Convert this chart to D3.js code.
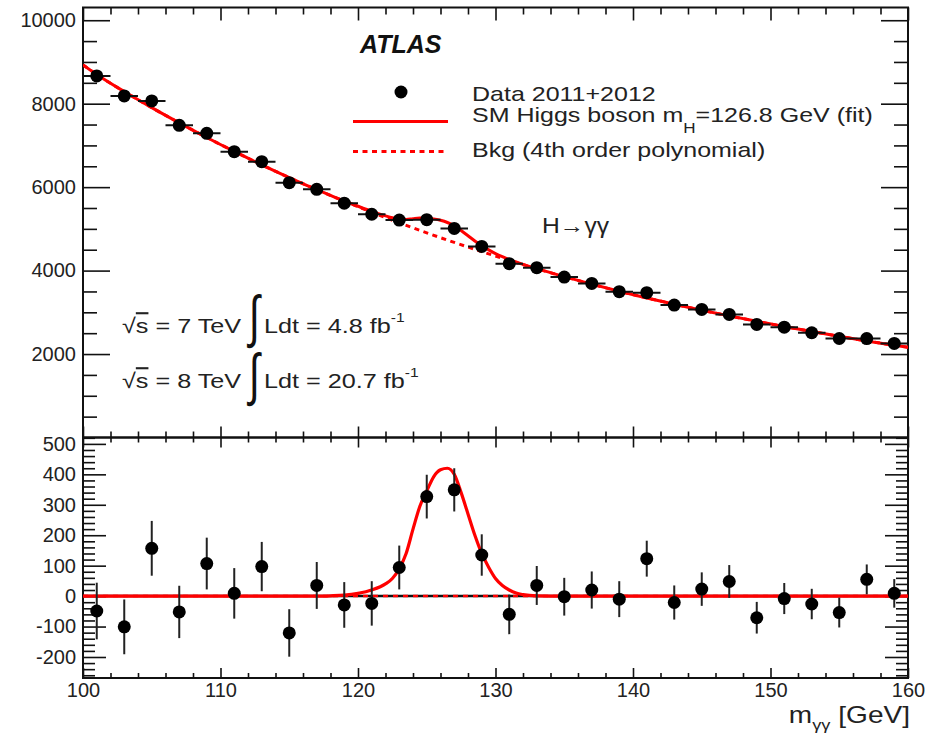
<!DOCTYPE html>
<html><head><meta charset="utf-8">
<script src="https://cdn.jsdelivr.net/npm/d3@7"></script>
<style>body{margin:0;background:#fff}svg{display:block}</style>
</head><body><svg id="c" width="928" height="738"></svg>
<script>
// ---------------- data ----------------
const massBins = [101,103,105,107,109,111,113,115,117,119,121,123,125,127,129,131,133,135,137,139,141,143,145,147,149,151,153,155,157,159];
const dataCounts = [8665,8185,8065,7482,7290,6851,6611,6108,5947,5615,5350,5210,5220,5010,4580,4165,4069,3845,3693,3494,3470,3173,3070,2950,2710,2645,2510,2372,2370,2254];
const dataErr = [93,90,90,86,85,83,81,78,77,75,73,72,72,71,68,65,64,62,61,59,59,56,55,54,52,51,50,49,49,47];
const residuals = [-49,-101,157,-52,107,9,97,-121,35,-29,-24,94,327,349,135,-60,35,-2,20,-10,123,-21,23,48,-71,-8,-26,-54,55,9];
const bkgX = [100,101,103,105,107,109,111,113,115,117,119,121,123,125,127,129,131,133,135,137,139,141,143,145,147,149,151,153,155,157,159,160];
const bkgY = [8930,8700,8290,7905,7540,7190,6855,6535,6230,5940,5665,5400,5145,4905,4675,4455,4245,4045,3855,3675,3505,3345,3195,3050,2915,2785,2660,2540,2425,2315,2210,2165];
const sigX = [100,117,118,119,120,121,122,122.5,123,123.5,124,124.5,125,125.5,126,126.5,127,127.5,128,128.5,129,129.5,130,130.5,131,131.5,132,133,135,160];
const sigY = [0,0,1,3,9,20,40,58,90,140,220,295,345,392,415,420,400,340,270,200,140,95,58,35,20,10,5,1,0,0];
const xMajorTicks = [100,110,120,130,140,150,160];
const yTopTicks = [2000,4000,6000,8000,10000];
const yBotTicks = [-200,-100,0,100,200,300,400,500];

// ---------------- layout ----------------
const FONT = '"Liberation Sans", Arial, Helvetica, sans-serif';
const L = 83, R = 908, T = 7.5, MID = 437.5, B = 678;
const svg = d3.select("#c");

const x = d3.scaleLinear().domain([100,160]).range([L,R]);
const yTop = d3.scaleLinear().domain([0,10305]).range([MID,T]);
const yBot = d3.scaleLinear().domain([-269,521]).range([B,MID]);

const xMinor = d3.range(100,160.01,2).filter(v => v % 10 !== 0);
const yTopMinor = d3.range(500,10300,500).filter(v => v % 2000 !== 0);
const yBotMinor = d3.range(-260,521,20).filter(v => v % 100 !== 0);

function axisG(fn, scale, vals, size, transform, labels, pad) {
  const a = fn(scale).tickValues(vals).tickSize(size).tickPadding(pad || 6)
    .tickFormat(labels ? (d => String(d)) : "");
  const g = svg.append("g").attr("transform", transform).call(a);
  g.select(".domain").remove();
  g.selectAll("line").attr("stroke", "#111").attr("stroke-width", 1.6);
  g.selectAll("text").attr("font-size", 20).attr("font-family", FONT).attr("fill", "#222");
  return g;
}

// top panel axes
axisG(d3.axisLeft, yTop, yTopTicks, -27, `translate(${L},0)`, true, 7);
axisG(d3.axisLeft, yTop, yTopMinor, -14, `translate(${L},0)`, false);
axisG(d3.axisRight, yTop, yTopTicks, -27, `translate(${R},0)`, false);
axisG(d3.axisRight, yTop, yTopMinor, -14, `translate(${R},0)`, false);
axisG(d3.axisTop, x, xMajorTicks, -13, `translate(0,${T})`, false);
axisG(d3.axisTop, x, xMinor, -7, `translate(0,${T})`, false);
axisG(d3.axisBottom, x, xMajorTicks, -11, `translate(0,${MID})`, false);
axisG(d3.axisBottom, x, xMinor, -6, `translate(0,${MID})`, false);
// bottom panel axes
axisG(d3.axisLeft, yBot, yBotTicks, -23, `translate(${L},0)`, true, 7);
axisG(d3.axisLeft, yBot, yBotMinor, -12, `translate(${L},0)`, false);
axisG(d3.axisRight, yBot, yBotTicks, -23, `translate(${R},0)`, false);
axisG(d3.axisRight, yBot, yBotMinor, -12, `translate(${R},0)`, false);
axisG(d3.axisTop, x, xMajorTicks, -10, `translate(0,${MID})`, false);
axisG(d3.axisTop, x, xMinor, -5, `translate(0,${MID})`, false);
axisG(d3.axisBottom, x, xMajorTicks, -10, `translate(0,${B})`, true, 5);
axisG(d3.axisBottom, x, xMinor, -5, `translate(0,${B})`, false);

// frames
svg.append("rect").attr("x",L).attr("y",T).attr("width",R-L).attr("height",MID-T)
  .attr("fill","none").attr("stroke","#111").attr("stroke-width",2);
svg.append("rect").attr("x",L).attr("y",MID).attr("width",R-L).attr("height",B-MID)
  .attr("fill","none").attr("stroke","#111").attr("stroke-width",2);

// clip paths
const defs = svg.append("defs");
defs.append("clipPath").attr("id","cTop").append("rect").attr("x",L).attr("y",T).attr("width",R-L).attr("height",MID-T);
defs.append("clipPath").attr("id","cBot").append("rect").attr("x",L).attr("y",MID).attr("width",R-L).attr("height",B-MID);

// curves
const bkgAt = d3.scaleLinear().domain(bkgX).range(bkgY);
const sigAt = d3.scaleLinear().domain(sigX).range(sigY);
const allX = Array.from(new Set(bkgX.concat(sigX))).sort((a,b)=>a-b);

const gTop = svg.append("g").attr("clip-path","url(#cTop)");
gTop.append("path").datum(bkgX.map((v,i)=>[v,bkgY[i]]))
  .attr("d", d3.line().x(d=>x(d[0])).y(d=>yTop(d[1])).curve(d3.curveMonotoneX))
  .attr("fill","none").attr("stroke","#ff0000").attr("stroke-width",3).attr("stroke-dasharray","5,4.5");
gTop.append("path").datum(allX.map(v=>[v,bkgAt(v)+sigAt(v)]))
  .attr("d", d3.line().x(d=>x(d[0])).y(d=>yTop(d[1])).curve(d3.curveMonotoneX))
  .attr("fill","none").attr("stroke","#ff0000").attr("stroke-width",3);

// top data
const pts = massBins.map((m,i)=>({m, n:dataCounts[i], e:dataErr[i], r:residuals[i]}));
gTop.selectAll("line.xe").data(pts).join("line").attr("class","xe")
  .attr("x1",d=>x(d.m-1)).attr("x2",d=>x(d.m+1)).attr("y1",d=>yTop(d.n)).attr("y2",d=>yTop(d.n))
  .attr("stroke","#111").attr("stroke-width",2);
gTop.selectAll("line.ye").data(pts).join("line").attr("class","ye")
  .attr("x1",d=>x(d.m)).attr("x2",d=>x(d.m)).attr("y1",d=>yTop(d.n-d.e)).attr("y2",d=>yTop(d.n+d.e))
  .attr("stroke","#111").attr("stroke-width",2);
gTop.selectAll("circle").data(pts).join("circle")
  .attr("cx",d=>x(d.m)).attr("cy",d=>yTop(d.n)).attr("r",6.5).attr("fill","#000");

// bottom panel
const gBot = svg.append("g").attr("clip-path","url(#cBot)");
gBot.append("line").attr("x1",L).attr("x2",R).attr("y1",yBot(0)).attr("y2",yBot(0))
  .attr("stroke","#111").attr("stroke-width",2.5);
gBot.append("line").attr("x1",L).attr("x2",R).attr("y1",yBot(0)).attr("y2",yBot(0))
  .attr("stroke","#ff0000").attr("stroke-width",2.5).attr("stroke-dasharray","5,5");
gBot.append("path").datum(sigX.map((v,i)=>[v,sigY[i]]))
  .attr("d", d3.line().x(d=>x(d[0])).y(d=>yBot(d[1])).curve(d3.curveMonotoneX))
  .attr("fill","none").attr("stroke","#ff0000").attr("stroke-width",3.2);
gBot.selectAll("line.ye").data(pts).join("line").attr("class","ye")
  .attr("x1",d=>x(d.m)).attr("x2",d=>x(d.m)).attr("y1",d=>yBot(d.r-d.e)).attr("y2",d=>yBot(d.r+d.e))
  .attr("stroke","#222").attr("stroke-width",2);
gBot.selectAll("circle").data(pts).join("circle")
  .attr("cx",d=>x(d.m)).attr("cy",d=>yBot(d.r)).attr("r",6.5).attr("fill","#000");

// ---------------- texts ----------------
function label(px, py, parts, o) {
  o = Object.assign({size:20.5, sx:1.22, sy:1, anchor:"start", weight:"normal", style:"normal", fill:"#222"}, o||{});
  const t = svg.append("text").attr("transform",`translate(${px},${py}) scale(${o.sx},${o.sy})`)
    .attr("font-family",FONT).attr("font-size",o.size).attr("text-anchor",o.anchor)
    .attr("font-weight",o.weight).attr("font-style",o.style).attr("fill",o.fill);
  parts.forEach(p => {
    const ts = t.append("tspan").text(p.t);
    if (p.dy) ts.attr("dy", p.dy);
    if (p.fs) ts.attr("font-size", p.fs);
    if (p.over) ts.style("text-decoration","overline");
  });
  return t;
}

label(360, 53, [{t:"ATLAS"}], {size:25, sx:1.0, weight:"bold", style:"italic", fill:"#111"});

// legend
svg.append("circle").attr("cx",401).attr("cy",92).attr("r",6.5).attr("fill","#000");
svg.append("line").attr("x1",353).attr("x2",448).attr("y1",121.5).attr("y2",121.5)
  .attr("stroke","#ff0000").attr("stroke-width",3);
svg.append("line").attr("x1",353).attr("x2",448).attr("y1",151.5).attr("y2",151.5)
  .attr("stroke","#ff0000").attr("stroke-width",3).attr("stroke-dasharray","5,4.5");
label(472, 101, [{t:"Data 2011+2012"}]);
label(472, 122, [{t:"SM Higgs boson m"},{t:"H",dy:11,fs:14},{t:"=126.8 GeV (fit)",dy:-11}]);
label(472, 157, [{t:"Bkg (4th order polynomial)"}]);

label(542, 233, [{t:"H→γγ"}], {size:22, sx:1.12});

// sqrt(s) / luminosity
label(122, 333, [{t:"√"},{t:"s",over:true},{t:" = 7 TeV"}], {size:21, sx:1.2});
label(264, 333, [{t:"Ldt = 4.8 fb"},{t:"-1",dy:-11,fs:13}], {size:21, sx:1.2});
label(122, 388, [{t:"√"},{t:"s",over:true},{t:" = 8 TeV"}], {size:21, sx:1.2});
label(264, 388, [{t:"Ldt = 20.7 fb"},{t:"-1",dy:-11,fs:13}], {size:21, sx:1.2});
label(249, 336, [{t:"∫"}], {size:44, sx:0.9, sy:1.3, fill:"#111"});
label(249, 394, [{t:"∫"}], {size:44, sx:0.9, sy:1.3, fill:"#111"});

// x title
label(910, 723, [{t:"m"},{t:"γγ",dy:7,fs:15},{t:" [GeV]",dy:-7}], {size:23, sx:1.22, anchor:"end"});
</script>
</body></html>
